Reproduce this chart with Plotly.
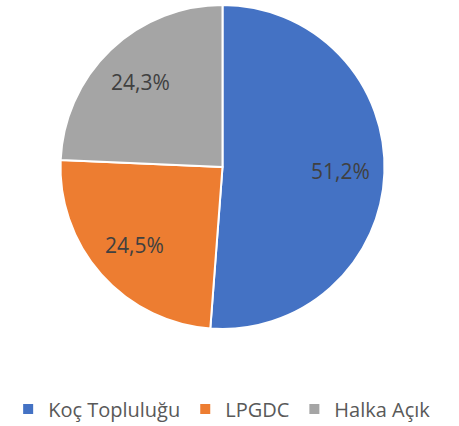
import math
import plotly.graph_objects as go

labels = ["Koç Topluluğu", "LPGDC", "Halka Açık"]
values = [51.2, 24.5, 24.3]
colors = ["#4472C4", "#ED7D31", "#A5A5A5"]

W, H = 459, 426
cx, cy, r = 222.5, 167, 162
label_r = 0.73

fig = go.Figure(go.Pie(
    labels=labels, values=values, sort=False, direction="clockwise", rotation=0,
    marker=dict(colors=colors, line=dict(color="white", width=2)),
    textinfo="none",
    domain=dict(x=[(cx - r) / W, (cx + r) / W], y=[(H - cy - r) / H, (H - cy + r) / H]),
    hoverinfo="label+percent",
))

total = sum(values)
cum = 0
annotations = []
for lab, v in zip(labels, values):
    mid = (cum + v / 2) / total * 2 * math.pi
    cum += v
    px = cx + label_r * r * math.sin(mid)
    py = cy - label_r * r * math.cos(mid)
    annotations.append(dict(
        x=px / W, y=1 - py / H, xref="paper", yref="paper",
        text=f"{v / total * 100:.1f}%".replace(".", ","), showarrow=False,
        xanchor="center", yanchor="middle",
        font=dict(family="Open Sans", size=21, color="#404040"),
    ))

fig.update_layout(
    width=W, height=H, margin=dict(l=0, r=0, t=0, b=0, autoexpand=False),
    separators=",.",
    paper_bgcolor="white",
    showlegend=True,
    annotations=annotations,
    legend=dict(orientation="h", x=0.484, xanchor="center", y=1 - 409 / H, yanchor="middle",
                font=dict(family="Open Sans", size=20, color="#595959"),
                itemwidth=30, traceorder="normal"),
)
fig.write_html("out.html", config={"displayModeBar": False},
               post_script="document.body.style.margin='0';")
